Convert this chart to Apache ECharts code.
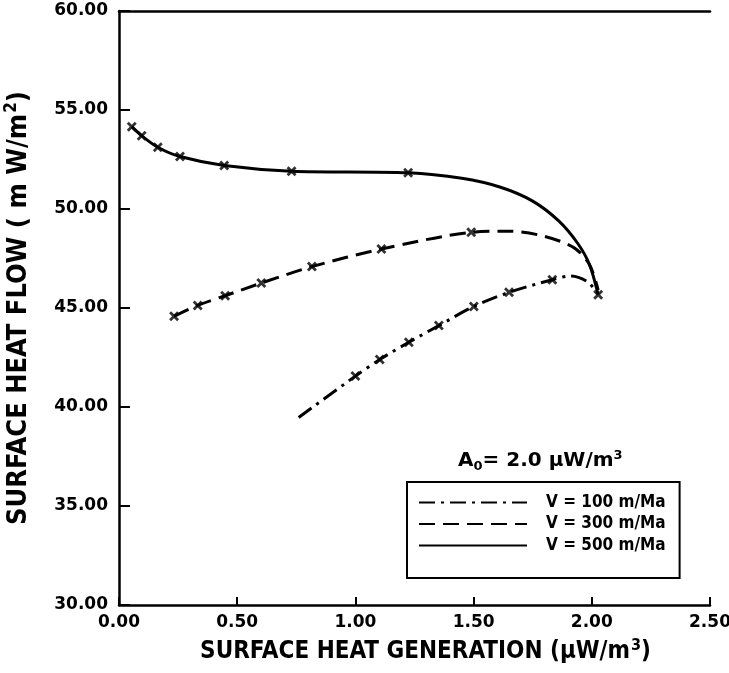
<!DOCTYPE html>
<html>
<head>
<meta charset="utf-8">
<script src="https://cdn.jsdelivr.net/npm/echarts@6/dist/echarts.min.js"></script>
<style>html,body{margin:0;padding:0;background:#fff;}#c{width:729px;height:673px;}</style>
</head>
<body>
<div id="c"></div>
<script>
// ---- data ----
var xTicks = [0, 0.5, 1.0, 1.5, 2.0, 2.5];
var yTicks = [30, 35, 40, 45, 50, 55, 60];
var seriesNames = ['V = 100 m/Ma', 'V = 300 m/Ma', 'V = 500 m/Ma'];

// V = 100 m/Ma (dash-dot)
var v100CurveX = [0.76, 1.0, 1.103, 1.226, 1.353, 1.501, 1.65, 1.833, 1.911, 1.98, 2.024];
var v100CurveY = [39.47, 41.56, 42.4, 43.27, 44.11, 45.08, 45.79, 46.43, 46.62, 46.34, 45.75];
var v100MarkX = [1.0, 1.103, 1.226, 1.353, 1.501, 1.65, 1.833];
var v100MarkY = [41.56, 42.4, 43.27, 44.11, 45.08, 45.79, 46.43];

// V = 300 m/Ma (dashed)
var v300CurveX = [0.233, 0.333, 0.449, 0.602, 0.816, 1.11, 1.49, 1.65, 1.8, 1.924, 1.99, 2.027];
var v300CurveY = [44.58, 45.13, 45.62, 46.26, 47.09, 47.98, 48.82, 48.88, 48.62, 48.05, 47.2, 45.9];
var v300MarkX = [0.233, 0.333, 0.449, 0.602, 0.816, 1.11, 1.49];
var v300MarkY = [44.58, 45.13, 45.62, 46.26, 47.09, 47.98, 48.82];

// V = 500 m/Ma (solid)
var v500CurveX = [0.054, 0.096, 0.164, 0.258, 0.445, 0.73, 1.223, 1.45, 1.614, 1.75, 1.86, 1.94, 1.99, 2.027];
var v500CurveY = [54.16, 53.7, 53.12, 52.65, 52.2, 51.91, 51.83, 51.55, 51.1, 50.4, 49.4, 48.27, 47.2, 45.67];
var v500MarkX = [0.054, 0.096, 0.164, 0.258, 0.445, 0.73, 1.223, 2.027];
var v500MarkY = [54.16, 53.7, 53.12, 52.65, 52.2, 51.91, 51.83, 45.67];

function pairs(xs, ys) { return xs.map(function (x, i) { return [x, ys[i]]; }); }

var crossPath = 'path://M0,2L2,0L5,3L8,0L10,2L7,5L10,8L8,10L5,7L2,10L0,8L3,5Z';
var font = 'DejaVu Sans';
var condensed = 'DejaVu Sans Condensed';

function lineSeries(name, xs, ys, type) {
  return {
    name: name, type: 'line', data: pairs(xs, ys), smooth: 0.3,
    showSymbol: false, symbol: 'none',
    lineStyle: { color: '#000', width: 3, type: type },
    itemStyle: { color: '#000' }, z: 3
  };
}
function markSeries(xs, ys) {
  return {
    type: 'scatter', data: pairs(xs, ys), symbol: crossPath, symbolSize: 10,
    itemStyle: { color: '#000' }, z: 4, silent: true
  };
}

var chart = echarts.init(document.getElementById('c'), null, { renderer: 'canvas' });
chart.setOption({
  animation: false,
  backgroundColor: '#fff',
  grid: { left: 119, right: 19, top: 11, bottom: 68, show: false, containLabel: false, outerBoundsMode: 'none' },
  xAxis: [{
    type: 'value', min: 0, max: 2.5, interval: 0.5,
    name: '{a|SURFACE HEAT GENERATION (\u00b5W/m}{s|3}{a|)}',
    nameLocation: 'middle', nameGap: 33,
    nameTextStyle: { padding: [0, 0, 0, 22], rich: {
      a: { fontFamily: condensed, fontWeight: 'bold', fontSize: 24, color: '#000', lineHeight: 28 },
      s: { fontFamily: condensed, fontWeight: 'bold', fontSize: 16, color: '#000', lineHeight: 28, padding: [0, 0, 12, 1] }
    } },
    axisLine: { show: true, onZero: false, lineStyle: { color: '#000', width: 2.5 } },
    axisTick: { show: true, inside: true, length: 8, lineStyle: { color: '#000', width: 2 } },
    axisLabel: { margin: 9, color: '#000', fontFamily: font, fontWeight: 'bold', fontSize: 17,
      formatter: function (v) { return v.toFixed(2); } },
    splitLine: { show: false }
  }, {
    type: 'value', position: 'top', min: 0, max: 2.5,
    axisLine: { show: true, onZero: false, lineStyle: { color: '#000', width: 2.5 } },
    axisTick: { show: false }, axisLabel: { show: false }, splitLine: { show: false }
  }],
  yAxis: [{
    type: 'value', min: 30, max: 60, interval: 5,
    name: '{a|SURFACE HEAT FLOW ( m W/m}{s|2}{a|)}',
    nameLocation: 'middle', nameGap: 84, nameRotate: 90,
    nameTextStyle: { rich: {
      a: { fontFamily: condensed, fontWeight: 'bold', fontSize: 27, color: '#000', lineHeight: 32 },
      s: { fontFamily: condensed, fontWeight: 'bold', fontSize: 17, color: '#000', lineHeight: 32, padding: [0, 0, 14, 1] }
    } },
    axisLine: { show: true, onZero: false, lineStyle: { color: '#000', width: 2.5 } },
    axisTick: { show: true, inside: true, length: 11, lineStyle: { color: '#000', width: 2 } },
    axisLabel: { margin: 11, color: '#000', fontFamily: font, fontWeight: 'bold', fontSize: 17,
      formatter: function (v) { return v.toFixed(2); } },
    splitLine: { show: false }
  }],
  legend: {
    data: seriesNames, orient: 'vertical', left: 407, top: 482,
    itemWidth: 108, itemHeight: 14, itemGap: 4.5,
    padding: [12, 14, 24, 11],
    borderColor: '#000', borderWidth: 2, backgroundColor: '#fff',
    itemStyle: { opacity: 0 },
    textStyle: { color: '#000', fontFamily: condensed, fontWeight: 'bold', fontSize: 17, lineHeight: 14, padding: [0, 0, 0, 14] },
    selectedMode: false, z: 10
  },
  graphic: [{
    type: 'text', left: 458, top: 449, z: 10,
    style: {
      text: '{a|A}{b|0}{a|= 2.0 \u00b5W/m}{c|3}',
      rich: {
        a: { fontFamily: font, fontWeight: 'bold', fontSize: 20, fill: '#000', lineHeight: 24 },
        b: { fontFamily: font, fontWeight: 'bold', fontSize: 13, fill: '#000', lineHeight: 24, padding: [11, 0, 0, 0] },
        c: { fontFamily: font, fontWeight: 'bold', fontSize: 13, fill: '#000', lineHeight: 24, padding: [0, 0, 11, 0] }
      }
    }
  }],
  series: [
    lineSeries(seriesNames[0], v100CurveX, v100CurveY, [16, 6, 3, 6]),
    lineSeries(seriesNames[1], v300CurveX, v300CurveY, [16, 8]),
    lineSeries(seriesNames[2], v500CurveX, v500CurveY, 'solid'),
    markSeries(v100MarkX, v100MarkY),
    markSeries(v300MarkX, v300MarkY),
    markSeries(v500MarkX, v500MarkY)
  ]
});
</script>
</body>
</html>
